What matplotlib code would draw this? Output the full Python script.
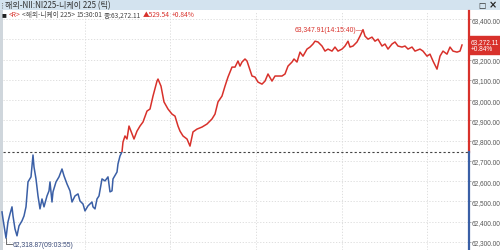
import matplotlib
matplotlib.use("Agg")
import matplotlib.pyplot as plt
from matplotlib.patches import Rectangle
from matplotlib.lines import Line2D
import numpy as np

# ---------------- data ----------------
prev_close = 62742.57
last_price = 63272.11
change = 529.54
change_pct = 0.84
high_label = "63,347.91(14:15:40)"
low_label = "62,318.87(09:03:55)"

# tick position (tick-chart x axis) and price
tick_no = [2, 3, 5, 6, 8, 10, 12, 13, 15, 17, 19, 22, 24, 26, 28, 31, 33, 34, 36, 38,
           40, 42, 44, 47, 49, 50, 52, 53, 56, 59, 62, 64, 67, 70, 72, 75, 78, 80, 83, 85,
           88, 92, 93, 95, 97, 99, 102, 105, 108, 110, 112, 113, 117, 118, 120, 122,
           123, 125, 127, 129, 132, 134, 137, 140, 143, 147, 150, 153, 157, 158, 161, 164,
           168, 172, 175, 178, 180, 183, 187, 190, 193, 197, 202, 207, 212, 215, 218, 222,
           225, 228, 232, 235, 238, 240, 242, 245, 247, 249, 252, 255, 258, 262, 265, 268,
           272, 275, 278, 282, 285, 288, 292, 294, 297, 300, 303, 307, 310, 313, 315, 318,
           322, 325, 328, 332, 335, 338, 342, 345, 348, 350, 353, 357, 360, 363, 365, 368,
           372, 375, 378, 382, 385, 388, 392, 395, 398, 402, 405, 408, 412, 415, 420, 423,
           427, 430, 433, 437, 440, 443, 447, 450, 453, 457, 460, 462]
price = [62448, 62413, 62349, 62318.87, 62399, 62438, 62473, 62428, 62364, 62330, 62379, 62404,
         62428, 62473, 62596, 62621, 62729, 62670, 62611, 62527, 62463, 62512, 62473, 62527,
         62552, 62596, 62497, 62547, 62596, 62621, 62660, 62626, 62586, 62552, 62497, 62527,
         62537, 62502, 62487, 62453, 62478, 62497, 62473, 62463, 62512, 62527, 62611, 62601,
         62621, 62547, 62552, 62611, 62645, 62685, 62724, 62745,
         62793, 62823, 62808, 62872, 62833, 62808, 62847, 62872, 62892, 62946, 62956, 63020,
         63094, 63104, 63069, 62991, 62956, 62931, 62921, 62872, 62847, 62823, 62808, 62773,
         62843, 62857, 62867, 62882, 62907, 62931, 62991, 63020, 63069, 63114, 63163, 63163,
         63193, 63168, 63188, 63203, 63193, 63163, 63119, 63114, 63089, 63079, 63094, 63129,
         63094, 63119, 63119, 63119, 63129, 63168, 63188, 63203, 63188, 63237, 63217, 63252,
         63262, 63277, 63291, 63287, 63267, 63242, 63252, 63242, 63262, 63242, 63252, 63267,
         63291, 63262, 63267, 63287, 63316, 63347.91, 63316, 63301, 63311, 63291, 63301, 63267,
         63277, 63252, 63277, 63287, 63267, 63262, 63267, 63252, 63262, 63242, 63252, 63242,
         63217, 63227, 63193, 63153, 63217, 63242, 63227, 63262, 63242, 63237, 63242, 63272.11]
y_ticks = [62300, 62400, 62500, 62600, 62700, 62800, 62900, 63000, 63100, 63200, 63300, 63400]
hidden_tick = 63300  # covered by the last-price box in the reference
v_grid = [85, 170, 256, 342, 427]

RED = "#d8312b"
BLUE = "#3a5fa6"
CJK = ["Noto Sans CJK KR", "DejaVu Sans"]
NARROW = ["Liberation Sans Narrow", "Liberation Sans", "DejaVu Sans"]

W, H = 500, 251
fig = plt.figure(figsize=(W / 100, H / 100), dpi=100)
fig.patch.set_facecolor("white")

top_px = 12
ax = fig.add_axes([3 / W, 0, 466 / W, (H - top_px) / H])
ax.set_xlim(3, 469)
ax.set_ylim(62260, 63440)

# grid / ticks
ax.set_yticks(y_ticks)
ax.set_yticklabels(["" if v == hidden_tick else f"{v:,.2f}" for v in y_ticks],
                   fontfamily=NARROW, fontsize=4.7, color="#555555")
ax.yaxis.tick_right()
ax.tick_params(axis="y", length=1.5, width=0.5, color="#888888", pad=0.6)
ax.set_xticks(v_grid)
ax.tick_params(axis="x", length=0, labelbottom=False)
ax.grid(True, color="#d9d9d9", linestyle=(0, (1.5, 2)), linewidth=0.6)
for s in ax.spines.values():
    s.set_visible(False)

# price line, coloured by prev close
x = np.array(tick_no, dtype=float)
y = np.array(price, dtype=float)
ln_up, = ax.plot(x, y, color=RED, lw=1.1, zorder=3)
ln_dn, = ax.plot(x, y, color=BLUE, lw=1.1, zorder=3)
clip_up = Rectangle((0, prev_close), 1000, 5000, transform=ax.transData)
clip_dn = Rectangle((0, prev_close - 5000), 1000, 5000, transform=ax.transData)
ln_up.set_clip_path(clip_up)
ln_dn.set_clip_path(clip_dn)

# prev close line
ax.axhline(prev_close, color="#444444", ls=(0, (2, 2)), lw=0.8, zorder=2)

# right spine coloured
ytr = ax.get_yaxis_transform()
ax.plot([1, 1], [prev_close, 63440], color=RED, lw=1.6, transform=ytr, clip_on=False, zorder=4)
ax.plot([1, 1], [62260, prev_close], color=BLUE, lw=1.6, transform=ytr, clip_on=False, zorder=4)

# last price box
ax.annotate(f"{last_price:,.2f}\n+{change_pct:.2f}%", xy=(1, last_price), xycoords=ytr,
            xytext=(1.2, 0), textcoords="offset points", ha="left", va="center",
            fontsize=4.7, color="white", fontfamily=NARROW, linespacing=1.0,
            bbox=dict(boxstyle="square,pad=0.3", fc=RED, ec=RED), zorder=6,
            annotation_clip=False)

# high / low labels
i_hi = int(np.argmax(y))
i_lo = int(np.argmin(y))
ax.annotate(high_label + "—", xy=(x[i_hi], y[i_hi]), xytext=(0, 0), textcoords="offset points",
            ha="right", va="center", fontsize=4.9, color=RED, fontfamily=NARROW, zorder=5)
ax.plot([x[i_lo], x[i_lo], x[i_lo] + 6], [y[i_lo], 62288, 62288], color="#555555", lw=0.6, zorder=5)
ax.annotate(low_label, xy=(x[i_lo] + 7, 62288), ha="left", va="center", fontsize=4.9,
            color="#3a4a78", fontfamily=NARROW, zorder=5)

# ---------------- window chrome ----------------
fig.add_artist(Rectangle((0, 1 - 11 / H), 1, 11 / H, transform=fig.transFigure,
                         fc="#d3e3ef", ec="none", zorder=0))
fig.add_artist(Rectangle((0, 0), 3 / W, 1 - 11 / H, transform=fig.transFigure,
                         fc="#cfd6dc", ec="none", zorder=0))
fig.add_artist(Line2D([1.8 / W, 1.8 / W], [1 - 8.5 / H, 1 - 2.5 / H], transform=fig.transFigure,
                      color="#777777", lw=0.8, ls=(0, (0.8, 1.2))))
fig.text(5 / W, 1 - 5.5 / H, "해외-NII:NI225-니케이 225 (틱)", fontsize=5.8, color="#333333",
         va="center", ha="left", fontfamily=CJK)
fig.text(482 / W, 1 - 5.5 / H, "□", fontsize=5.5, color="#222222", va="center", ha="center",
         fontfamily=["DejaVu Sans"], fontweight="bold")
fig.text(493 / W, 1 - 5.5 / H, "×", fontsize=7, color="#222222", va="center", ha="center",
         fontfamily=["DejaVu Sans"], fontweight="bold")

# info line (sequential text pieces)
pieces = [("■", "#222222", 3.5), ("<R>", RED, 4.8), ("<해외-니케이 225>", "#444444", 4.8),
          ("15:30:01", "#444444", 4.8), (f"종:{last_price:,.2f}", "#444444", 4.8),
          (f"▲{change:,.2f}", RED, 4.8), (f"+{change_pct:.2f}%", RED, 4.8)]
fig.canvas.draw()
renderer = fig.canvas.get_renderer()
xpos = 2.0
ypos = 1 - 15.5 / H
for txt, col, fs in pieces:
    t = fig.text(xpos / W, ypos, txt, fontsize=fs, color=col, va="center", ha="left",
                 fontfamily=CJK)
    bb = t.get_window_extent(renderer=renderer)
    xpos += bb.width + 1.6

fig.savefig("out.png", dpi=100)
